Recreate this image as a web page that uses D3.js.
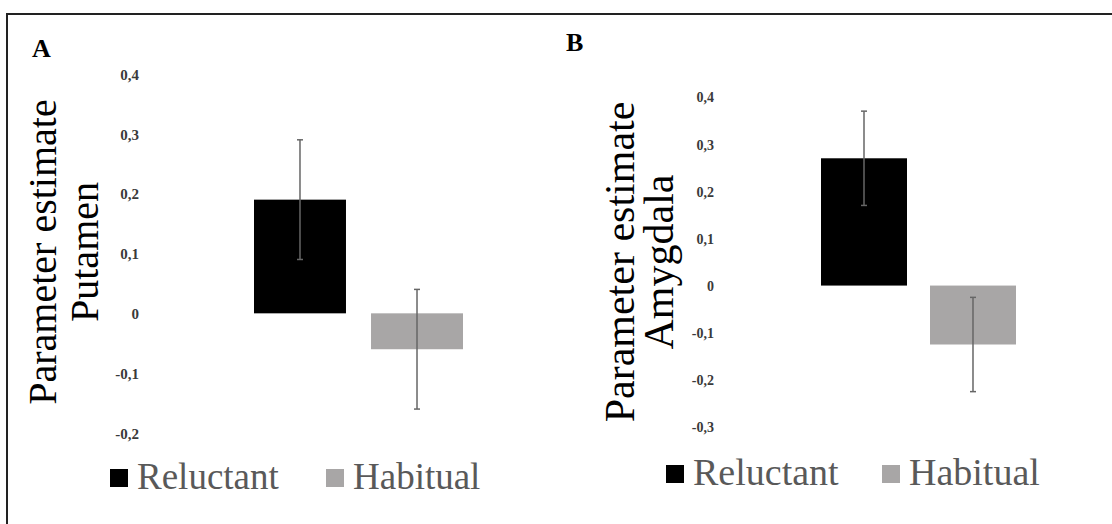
<!DOCTYPE html>
<html lang="en">
<head>
<meta charset="utf-8" />
<style>
body { margin: 0; background: #fff; }
svg { display: block; }
.tick text { font-family: "Liberation Serif", "Times New Roman", serif; font-weight: bold; fill: #3a3a3a; }
.ytitle { font-family: "Liberation Serif", "Times New Roman", serif; fill: #000; text-anchor: middle; }
.panelLetter { font-family: "Liberation Serif", "Times New Roman", serif; font-weight: bold; fill: #000; }
.legendText { font-family: "Liberation Serif", "Times New Roman", serif; fill: #595959; }
.errBar { stroke: #666; stroke-width: 1.5; }
</style>
</head>
<body>
<script src="https://cdn.jsdelivr.net/npm/d3@7"></script>
<script>
// data
var categories = ["Reluctant", "Habitual"];
var barColors = ["#000000", "#a8a6a6"];
var putamenValues = [0.19, -0.06];
var putamenErrors = [0.1, 0.1];
var putamenTicks = [-0.2, -0.1, 0, 0.1, 0.2, 0.3, 0.4];
var amygdalaValues = [0.27, -0.125];
var amygdalaErrors = [0.1, 0.1];
var amygdalaTicks = [-0.3, -0.2, -0.1, 0, 0.1, 0.2, 0.3, 0.4];

var width = 1112, height = 524;

var svg = d3.select("body").append("svg")
    .attr("width", width)
    .attr("height", height);

// outer frame (only top/left visible)
svg.append("rect")
    .attr("x", 7).attr("y", 14)
    .attr("width", 1300).attr("height", 700)
    .attr("fill", "none")
    .attr("stroke", "#222")
    .attr("stroke-width", 2);

function fmt(d) {
    if (d === 0) return "0";
    return d3.format(".1f")(d).replace("\u2212", "-").replace(".", ",");
}

function drawPanel(p) {
    var g = svg.append("g");

    var y = d3.scaleLinear()
        .domain([p.ticks[0], p.ticks[p.ticks.length - 1]])
        .range(p.yRange);

    var x = d3.scaleBand()
        .domain(categories)
        .range(p.xRange)
        .paddingInner(p.gap);

    // y axis, labels only
    var axis = g.append("g")
        .attr("transform", "translate(" + p.axisX + ",0)")
        .call(d3.axisLeft(y).tickValues(p.ticks).tickFormat(fmt).tickSize(0).tickPadding(0));
    axis.select(".domain").remove();
    axis.selectAll(".tick text")
        .style("font-size", p.tickFont + "px")
        .attr("dy", "0.35em");

    // bars
    g.selectAll(".bar")
        .data(p.values)
        .enter().append("rect")
        .attr("class", "bar")
        .attr("x", function (d, i) { return x(categories[i]); })
        .attr("width", x.bandwidth())
        .attr("y", function (d) { return y(Math.max(0, d)); })
        .attr("height", function (d) { return Math.abs(y(d) - y(0)); })
        .attr("fill", function (d, i) { return barColors[i]; });

    // error bars
    var cap = 3;
    p.values.forEach(function (d, i) {
        var cx = x(categories[i]) + x.bandwidth() / 2;
        var hi = y(d + p.errors[i]), lo = y(d - p.errors[i]);
        g.append("line").attr("class", "errBar")
            .attr("x1", cx).attr("x2", cx).attr("y1", hi).attr("y2", lo);
        g.append("line").attr("class", "errBar")
            .attr("x1", cx - cap).attr("x2", cx + cap).attr("y1", hi).attr("y2", hi);
        g.append("line").attr("class", "errBar")
            .attr("x1", cx - cap).attr("x2", cx + cap).attr("y1", lo).attr("y2", lo);
    });

    // y title, two lines rotated
    p.title.forEach(function (t, i) {
        g.append("text")
            .attr("class", "ytitle")
            .attr("transform", "translate(" + p.titleX[i] + "," + p.titleY + ") rotate(-90)")
            .style("font-size", p.titleFont + "px")
            .text(t);
    });

    // panel letter
    g.append("text")
        .attr("class", "panelLetter")
        .attr("x", p.letterPos[0]).attr("y", p.letterPos[1])
        .style("font-size", "26px")
        .text(p.letter);

    // legend
    categories.forEach(function (c, i) {
        g.append("rect")
            .attr("x", p.legendX[i]).attr("y", p.legendY - 20)
            .attr("width", 18).attr("height", 18)
            .attr("fill", barColors[i]);
        g.append("text")
            .attr("class", "legendText")
            .attr("x", p.legendX[i] + 27).attr("y", p.legendY)
            .style("font-size", p.legendFont + "px")
            .text(c);
    });
}

drawPanel({
    letter: "A", letterPos: [32, 57],
    values: putamenValues, errors: putamenErrors, ticks: putamenTicks,
    yRange: [433, 74], xRange: [254, 463], gap: 0.214,
    axisX: 139, tickFont: 15,
    title: ["Parameter estimate", "Putamen"], titleX: [56, 98], titleY: 252, titleFont: 40,
    legendX: [110, 326], legendY: 489, legendFont: 37
});

drawPanel({
    letter: "B", letterPos: [566, 51],
    values: amygdalaValues, errors: amygdalaErrors, ticks: amygdalaTicks,
    yRange: [427, 97], xRange: [821, 1016], gap: 0.211,
    axisX: 714, tickFont: 14,
    title: ["Parameter estimate", "Amygdala"], titleX: [634, 673], titleY: 262, titleFont: 42,
    legendX: [666, 882], legendY: 485, legendFont: 38
});
</script>
</body>
</html>
